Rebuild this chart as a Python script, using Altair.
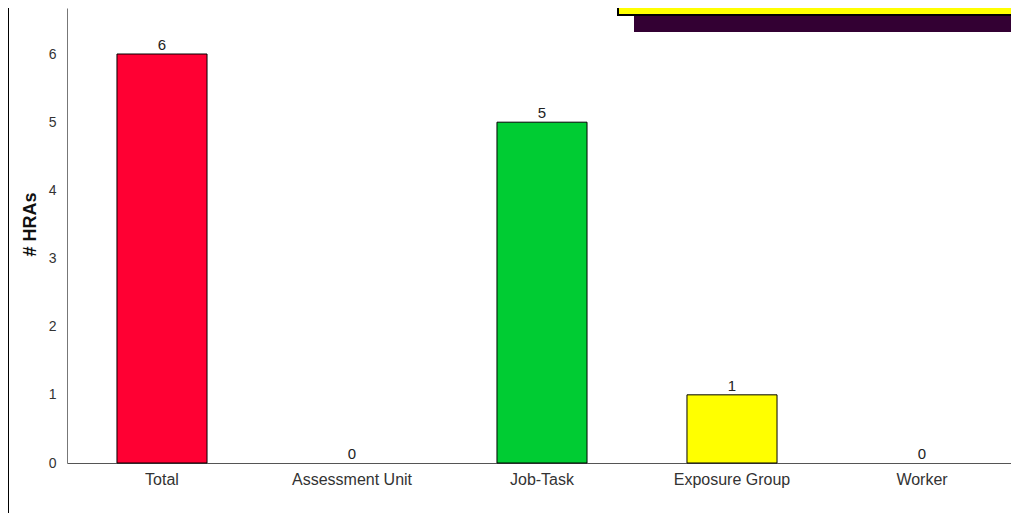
import altair as alt
import pandas as pd

categories = ["Total", "Assessment Unit", "Job-Task", "Exposure Group", "Worker"]
counts = [6, 0, 5, 1, 0]
bar_colors = ["#FF0033", "#FFFFFF", "#00CC33", "#FFFF00", "#FFFFFF"]
y_ticks = [0, 1, 2, 3, 4, 5, 6]

FONT = "Liberation Sans"

df = pd.DataFrame({"category": categories, "count": counts, "color": bar_colors})

x_enc = alt.X(
    "category:N",
    sort=categories,
    scale=alt.Scale(paddingInner=0.526, paddingOuter=0.263),
    axis=alt.Axis(
        title=None, labelAngle=0, ticks=False, domainColor="#555555",
        labelFont=FONT, labelFontSize=16, labelColor="#333333", labelPadding=8,
    ),
)
y_enc = alt.Y(
    "count:Q",
    scale=alt.Scale(domain=[0, 6.675], nice=False),
    axis=alt.Axis(
        title="# HRAs", values=y_ticks, format="d", ticks=False, grid=False,
        domainColor="#777777", labelFont=FONT, labelFontSize=14,
        labelColor="#333333", labelPadding=11,
        titleFont=FONT, titleFontSize=18, titleFontWeight="bold",
        titleColor="#111111", titlePadding=9, titleY=216,
    ),
)

base = alt.Chart(df)
bars = base.mark_bar(stroke="black", strokeWidth=1).encode(
    x=x_enc,
    y=y_enc,
    color=alt.Color("color:N", scale=None),
    strokeOpacity=alt.condition(alt.datum.count > 0, alt.value(1), alt.value(0)),
)
labels = base.mark_text(
    baseline="bottom", dy=-1, font=FONT, fontSize=15, color="#222222"
).encode(x=alt.X("category:N", sort=categories), y="count:Q", text="count:Q")

one = pd.DataFrame({"a": [0]})
left_rule = alt.Chart(one).mark_rule(color="black", strokeWidth=2).encode(
    x=alt.value(-59), y=alt.value(-10), y2=alt.value(520)
)
shadow = alt.Chart(one).mark_rect(color="#330033").encode(
    x=alt.value(567), x2=alt.value(1000), y=alt.value(-10), y2=alt.value(24)
)
box = alt.Chart(one).mark_rect(fill="#FFFF00", stroke="black", strokeWidth=2).encode(
    x=alt.value(551), x2=alt.value(1000), y=alt.value(-20), y2=alt.value(7)
)

chart = alt.layer(bars, labels, left_rule, shadow, box).properties(
    width=950,
    height=455,
    autosize=alt.AutoSizeParams(type="none"),
    padding={"left": 59, "top": 0, "right": -6, "bottom": 50},
    background="white",
).configure_view(stroke=None)

chart.save("out.html", embed_options={"renderer": "svg", "actions": False})
